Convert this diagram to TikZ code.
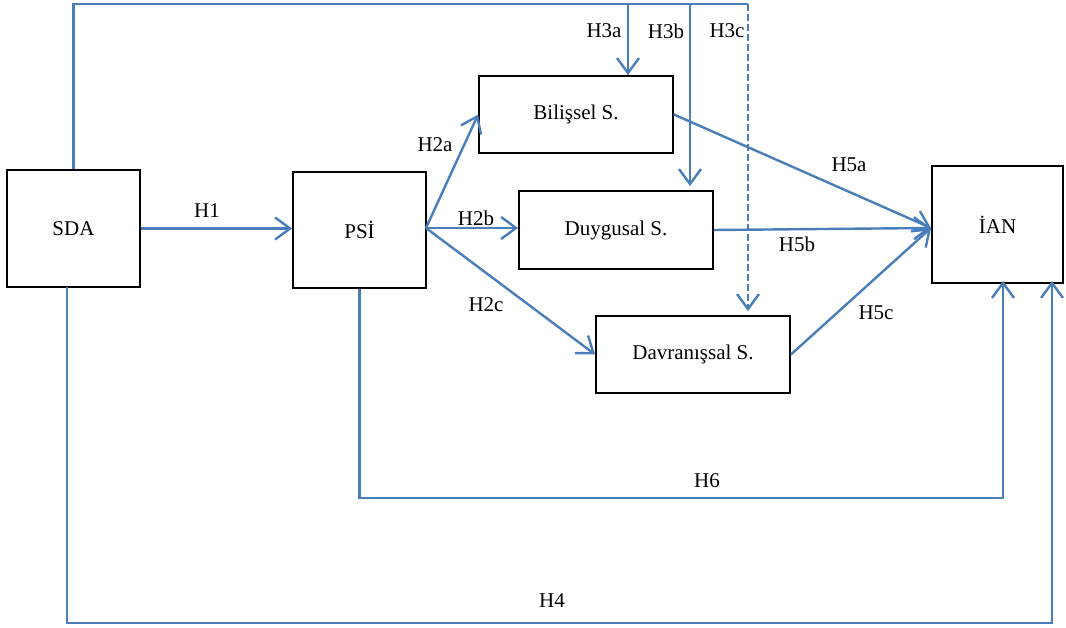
\documentclass[tikz,border=0pt]{standalone}
\usepackage{fontspec}
\setmainfont{Liberation Serif}
\usetikzlibrary{arrows.meta}
\definecolor{lnblue}{RGB}{74,126,187}
\begin{document}
\begin{tikzpicture}[x=1pt,y=-1pt,
  box/.style={draw=black,line width=1.8pt,rectangle,inner sep=0pt,font=\fontsize{21}{25}\selectfont},
  lbl/.style={inner sep=0pt,font=\fontsize{21}{25}\selectfont},
  conn/.style={draw=lnblue,line width=2.4pt,line join=miter},
  arr/.style={conn,-{Straight Barb[length=15pt,width=22pt,line width=2.4pt]}},
  dashline/.style={dash pattern=on 7pt off 3pt}]
\useasboundingbox (0,0) rectangle (1066,628);
% boxes
\node[box,minimum width=133pt,minimum height=117pt] (SDA) at (73.5,228.5) {SDA};
\node[box,minimum width=133pt,minimum height=116pt] (PSI) at (359.5,230) {PSİ};
\node[box,minimum width=194pt,minimum height=77pt] (BIL) at (576,114.5) {Bilişsel S.};
\node[box,minimum width=194pt,minimum height=78pt] (DUY) at (616,230) {Duygusal S.};
\node[box,minimum width=194pt,minimum height=77pt] (DAV) at (693,354.5) {Davranışsal S.};
\node[box,minimum width=131pt,minimum height=117pt] (IAN) at (997.5,224.5) {İAN};
% helper coordinates
\coordinate (T3a) at (628,4);
\coordinate (T3b) at (690,4);
\coordinate (T3c) at (748,4);
\coordinate (B6) at (1003,498);
\coordinate (B4) at (1052,623);
\coordinate (S4) at (67,287);
\coordinate (PIn) at (426,228);
\coordinate (Iin) at (931,228);
% H1
\draw[arr] (SDA.east) -- (SDA.east -| PSI.west);
% H2
\draw[arr] (PIn) -- (BIL.west);
\draw[arr] (PIn) -- (PIn -| DUY.west);
\draw[arr] (PIn) -- (DAV.west);
% H5
\draw[arr] (BIL.east) -- (Iin);
\draw[arr] (DUY.east) -- (Iin);
\draw[arr] (DAV.east) -- (Iin);
% top loop H3
\draw[conn] (SDA.north) |- (T3c);
\draw[arr] (T3a) -- (T3a |- BIL.north);
\draw[arr,shorten >=4pt] (T3b) -- (T3b |- DUY.north);
\draw[arr,dashline,shorten >=4pt] (T3c) -- (T3c |- DAV.north);
% H6
\draw[arr] (PSI.south) |- (B6) -- ([yshift=3pt]B6 |- IAN.south);
% H4
\draw[arr] (S4) |- (B4) -- ([yshift=3pt]B4 |- IAN.south);
% labels
\node[lbl] (L1) at (207,211) {H1};
\node[lbl] (L2a) at (435,145) {H2a};
\node[lbl] (L2b) at (476,218) {H2b};
\node[lbl] (L2c) at (486,305) {H2c};
\node[lbl] (L3a) at (604,31) {H3a};
\node[lbl] (L3b) at (666,31) {H3b};
\node[lbl] (L3c) at (727,31) {H3c};
\node[lbl] (L5a) at (849,165) {H5a};
\node[lbl] (L5b) at (797,244) {H5b};
\node[lbl] (L5c) at (876,313) {H5c};
\node[lbl] (L6) at (707,481) {H6};
\node[lbl] (L4) at (552,601) {H4};
\end{tikzpicture}
\end{document}
